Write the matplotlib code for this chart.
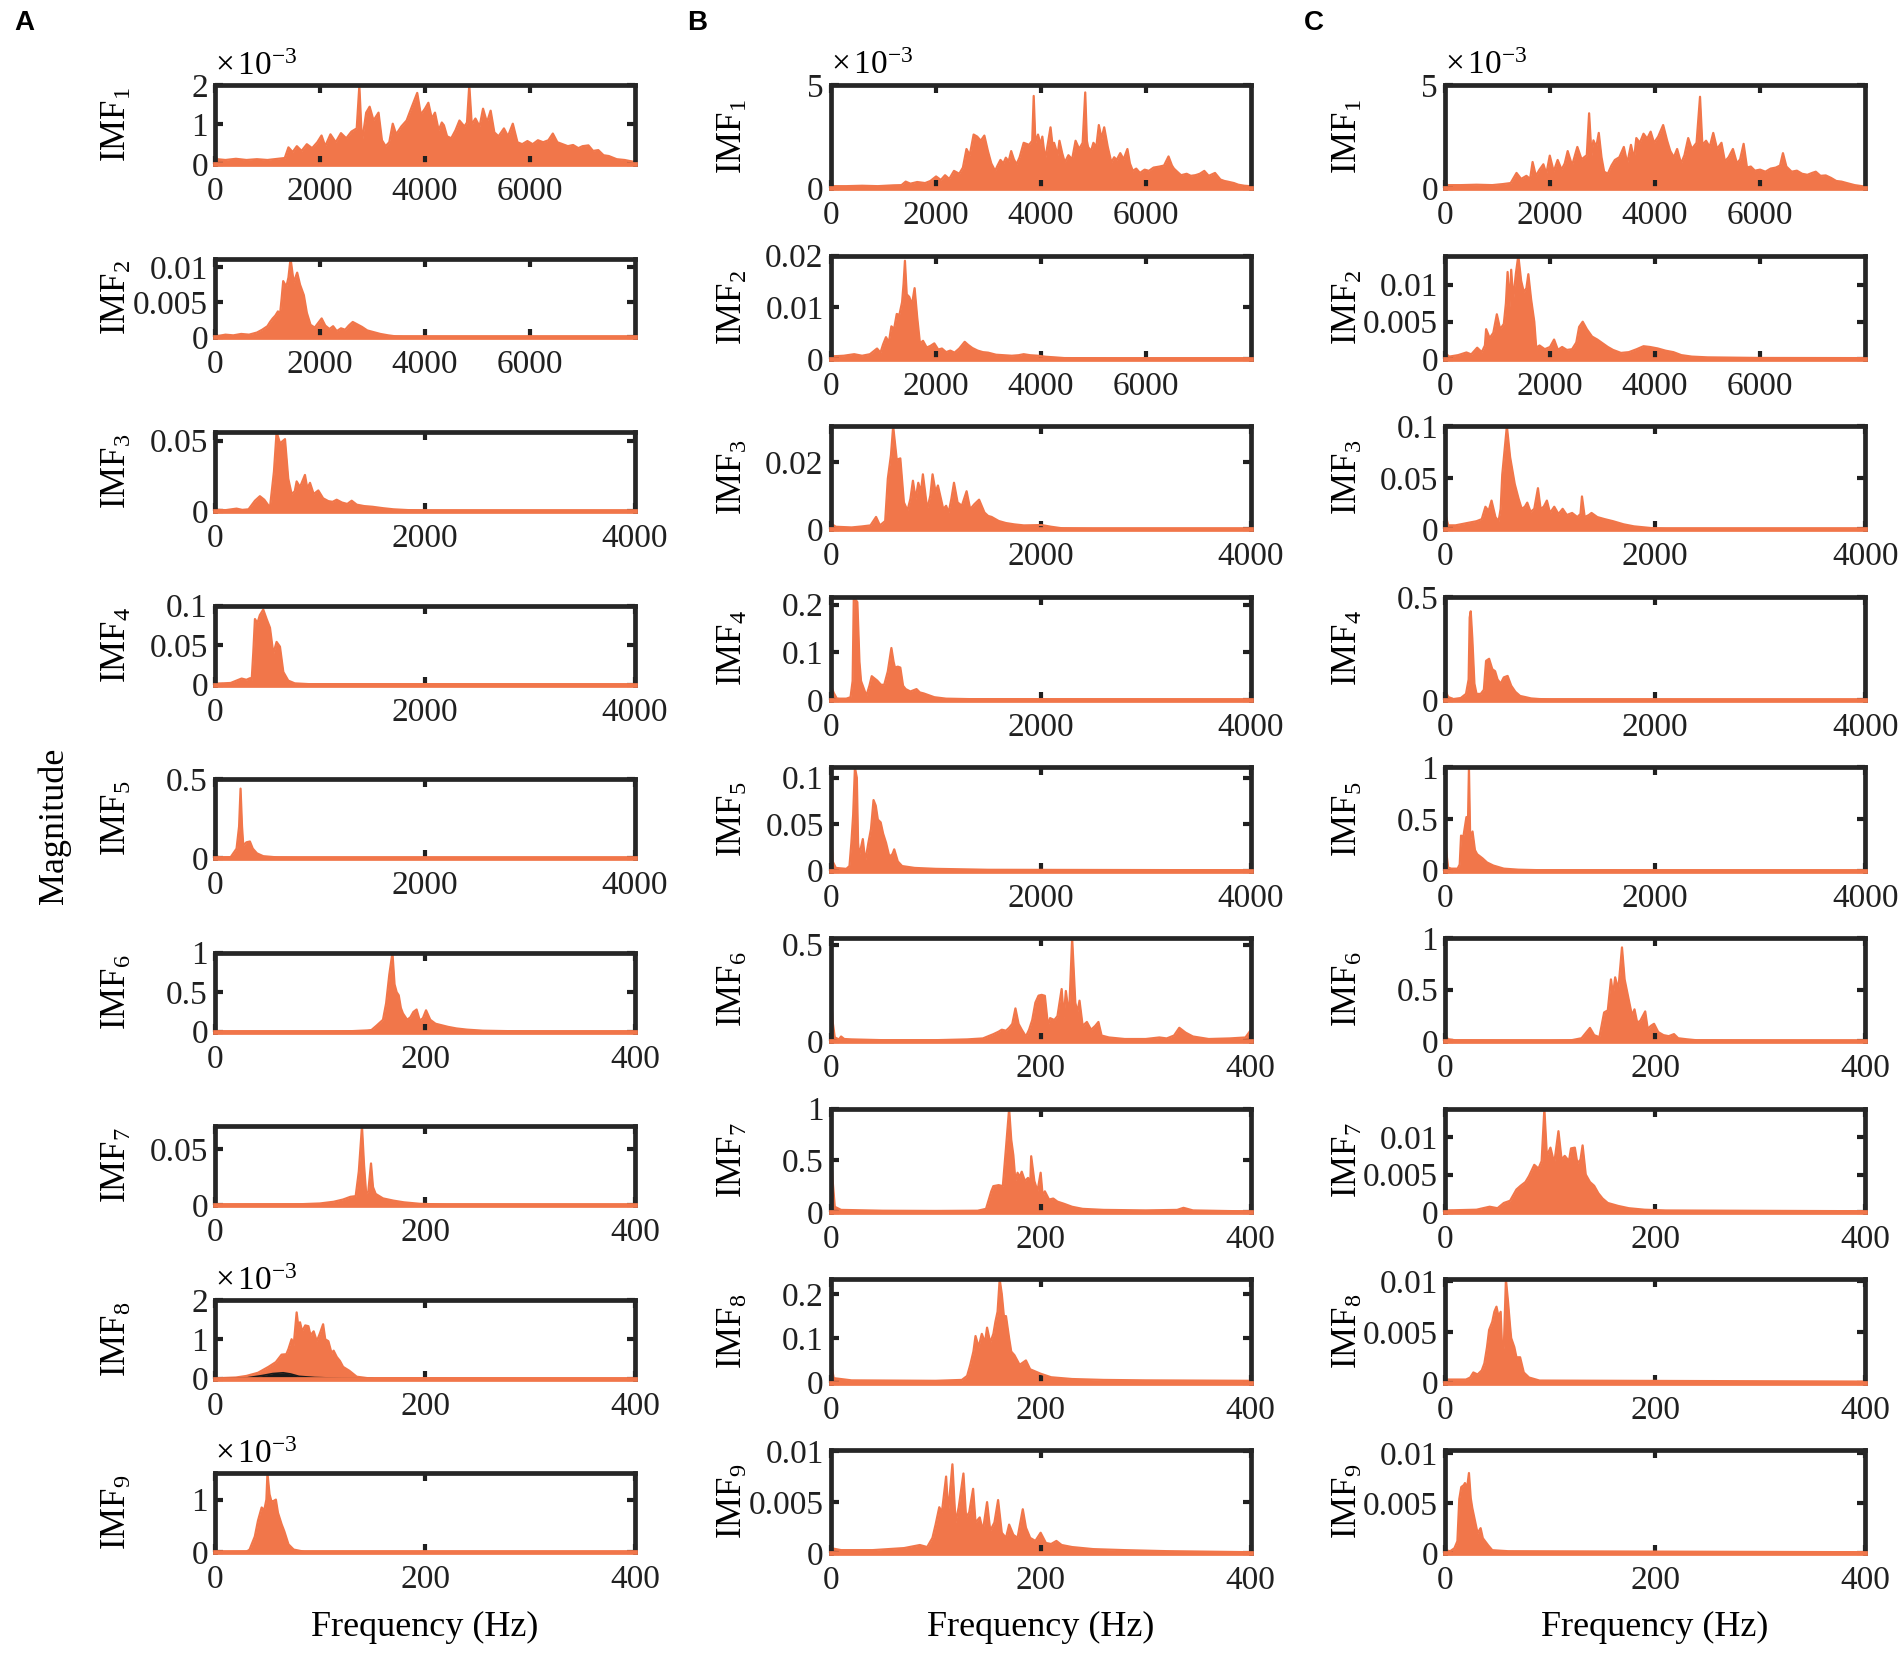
"""Amplitude spectra of IMF1-IMF9 for three signals (columns A, B, C)."""

import matplotlib
matplotlib.use("Agg")
import matplotlib.pyplot as plt
import numpy as np

plt.rcParams["font.family"] = ["Liberation Serif", "DejaVu Serif"]
plt.rcParams["mathtext.fontset"] = "custom"
plt.rcParams["mathtext.rm"] = "Liberation Serif"
plt.rcParams["mathtext.it"] = "Liberation Serif:italic"

ORANGE = "#F1764A"

# ---- spectra, (frequency Hz, magnitude) ; panels with *1e-3 scale are stored in units of 1e-3
a_imf1 = [(0, 0.22), (40, 0.12), (200, 0.1), (400, 0.13), (600, 0.1), (800, 0.12), (1000, 0.1), (1200, 0.13),
          (1330, 0.15), (1400, 0.42), (1480, 0.3), (1560, 0.45), (1650, 0.33), (1750, 0.5), (1850, 0.4),
          (1950, 0.55), (2030, 0.72), (2100, 0.45), (2200, 0.75), (2300, 0.55), (2400, 0.78), (2500, 0.65),
          (2600, 0.82), (2700, 0.9), (2750, 1.98), (2800, 0.55), (2880, 1.3), (2946, 1.45), (3020, 1.1),
          (3115, 1.3), (3180, 0.6), (3250, 0.45), (3320, 0.55), (3386, 1.02), (3450, 0.75), (3550, 0.95),
          (3650, 1.1), (3750, 1.45), (3852, 1.8), (3920, 1.25), (4000, 1.4), (4064, 1.55), (4130, 1.15),
          (4190, 1.3), (4260, 0.85), (4320, 1.05), (4360, 0.98), (4420, 0.7), (4500, 0.65), (4580, 0.85),
          (4656, 1.1), (4750, 0.95), (4800, 1.05), (4843, 2.0), (4890, 1.0), (4960, 1.15), (5040, 0.95),
          (5105, 1.4), (5180, 1.05), (5250, 1.35), (5320, 0.8), (5400, 0.7), (5503, 0.9), (5580, 0.7),
          (5672, 1.02), (5760, 0.55), (5850, 0.5), (5950, 0.58), (6050, 0.5), (6150, 0.6), (6250, 0.55),
          (6350, 0.6), (6434, 0.77), (6520, 0.55), (6620, 0.5), (6720, 0.45), (6820, 0.48), (6920, 0.4),
          (7000, 0.45), (7112, 0.47), (7200, 0.33), (7300, 0.35), (7400, 0.22), (7500, 0.2), (7650, 0.12),
          (7800, 0.1), (7990, 0.05)]
a_imf2 = [(0, 0.0006), (60, 0.0002), (200, 0.0004), (350, 0.0003), (500, 0.0005), (650, 0.0004), (800, 0.0007),
          (900, 0.0011), (1000, 0.0016), (1050, 0.0022), (1100, 0.0027), (1150, 0.0031), (1200, 0.0037),
          (1240, 0.0033), (1270, 0.0055), (1300, 0.008), (1360, 0.0072), (1400, 0.0085), (1440, 0.0112),
          (1500, 0.0078), (1566, 0.0092), (1620, 0.0075), (1693, 0.006), (1750, 0.0035), (1820, 0.0018),
          (1900, 0.0014), (1960, 0.002), (2032, 0.0027), (2100, 0.0017), (2180, 0.0012), (2250, 0.0016),
          (2320, 0.0009), (2400, 0.0013), (2480, 0.0011), (2550, 0.0017), (2624, 0.0022), (2700, 0.0019),
          (2800, 0.0015), (2900, 0.001), (3000, 0.0008), (3150, 0.0005), (3300, 0.0003), (3450, 0.00015),
          (3600, 0.0001), (5000, 0.00008), (7990, 0.00008)]
a_imf3 = [(0, 0.001), (100, 0.0006), (206, 0.0017), (260, 0.0008), (320, 0.0012), (381, 0.0073), (428, 0.0105),
          (470, 0.008), (524, 0.0024), (562, 0.028), (587, 0.056), (620, 0.048), (667, 0.051), (698, 0.023),
          (730, 0.012), (760, 0.014), (778, 0.021), (810, 0.017), (857, 0.0256), (880, 0.016), (905, 0.02),
          (940, 0.012), (984, 0.0146), (1030, 0.009), (1080, 0.007), (1120, 0.0065), (1159, 0.008),
          (1210, 0.006), (1260, 0.005), (1302, 0.0073), (1350, 0.0045), (1420, 0.0035), (1500, 0.003),
          (1600, 0.002), (1700, 0.0012), (1850, 0.0006), (2000, 0.0003), (2200, 0.0002), (3990, 0.0001)]
a_imf4 = [(0, 0.001), (150, 0.002), (254, 0.0076), (300, 0.006), (333, 0.008), (350, 0.006), (365, 0.04),
          (381, 0.083), (405, 0.078), (428, 0.088), (460, 0.095), (492, 0.083), (524, 0.072), (556, 0.039),
          (587, 0.054), (619, 0.048), (651, 0.016), (698, 0.005), (760, 0.0015), (900, 0.0005), (3990, 0.0002)]
a_imf5 = [(0, 0.012), (60, 0.004), (150, 0.006), (206, 0.06), (230, 0.2), (244, 0.44), (258, 0.2), (270, 0.08),
          (300, 0.1), (333, 0.105), (360, 0.06), (400, 0.03), (460, 0.012), (600, 0.004), (800, 0.002),
          (3990, 0.001)]
a_imf6 = [(0, 0.003), (100, 0.003), (130, 0.006), (145, 0.015), (149, 0.02), (154, 0.077), (160, 0.15),
          (163, 0.36), (166, 0.72), (169, 1.0), (171, 0.6), (173, 0.5), (175, 0.46), (177, 0.3), (179, 0.23),
          (183, 0.15), (186, 0.18), (189, 0.25), (192, 0.28), (195, 0.14), (198, 0.17), (201, 0.27),
          (205, 0.15), (210, 0.1), (216, 0.08), (222, 0.06), (230, 0.04), (240, 0.025), (255, 0.012),
          (280, 0.006), (320, 0.003), (400, 0.002)]
a_imf7 = [(0, 0.0005), (80, 0.0008), (100, 0.0015), (113, 0.003), (122, 0.005), (129, 0.0074), (134, 0.008),
          (137, 0.03), (140, 0.07), (142, 0.035), (144, 0.01), (146, 0.012), (148.6, 0.037), (150.5, 0.016),
          (153, 0.01), (160, 0.006), (170, 0.004), (180, 0.0025), (195, 0.0012), (220, 0.0005), (400, 0.0003)]
a_imf8 = [(0, 0.01), (20, 0.03), (30, 0.07), (41, 0.15), (51, 0.3), (58, 0.42), (63.5, 0.61), (68, 0.62),
          (70, 0.75), (73, 1.0), (75, 0.85), (77.8, 1.68), (79.5, 1.3), (81, 1.43), (83, 1.2), (86, 1.35),
          (89, 1.33), (91, 1.1), (94, 1.2), (97, 0.95), (100, 1.15), (103, 1.38), (105, 1.0), (108, 0.95),
          (111, 0.65), (113, 0.71), (116, 0.55), (119, 0.45), (122, 0.3), (128, 0.2), (135, 0.05),
          (145, 0.015), (400, 0.005)]
a_imf8_black = [(0, 0.0), (30, 0.02), (45, 0.08), (55, 0.13), (65, 0.15), (72, 0.12), (80, 0.06), (95, 0.03),
                (120, 0.01), (150, 0.0)]
a_imf9 = [(0, 0.005), (30, 0.01), (33, 0.05), (38, 0.3), (41, 0.6), (44.5, 0.85), (47, 0.8), (49, 1.0),
          (50, 1.5), (52, 1.1), (54, 0.95), (55.5, 0.97), (58, 1.0), (60, 0.75), (63.5, 0.53), (66, 0.4),
          (70, 0.15), (75, 0.05), (85, 0.01), (400, 0.005)]

b_imf1 = [(0, 0.25), (60, 0.1), (300, 0.1), (600, 0.12), (900, 0.1), (1200, 0.14), (1350, 0.15), (1430, 0.32),
          (1520, 0.22), (1650, 0.3), (1800, 0.25), (1900, 0.35), (2009, 0.57), (2100, 0.4), (2180, 0.63),
          (2260, 0.45), (2350, 0.84), (2450, 0.7), (2520, 1.0), (2588, 1.9), (2650, 1.6), (2724, 2.6),
          (2792, 2.5), (2860, 2.3), (2928, 2.55), (2996, 1.8), (3060, 1.2), (3133, 0.84), (3180, 1.1),
          (3235, 1.37), (3290, 1.2), (3337, 1.48), (3390, 1.3), (3439, 1.8), (3490, 1.4), (3541, 1.16),
          (3600, 1.5), (3677, 2.2), (3780, 2.1), (3840, 2.3), (3868, 4.47), (3900, 2.2), (3950, 2.6),
          (4000, 2.1), (4032, 2.5), (4086, 1.4), (4140, 2.2), (4188, 2.95), (4230, 2.0), (4256, 2.2),
          (4324, 1.6), (4358, 2.3), (4410, 1.7), (4460, 1.25), (4529, 1.6), (4600, 1.4), (4665, 2.3),
          (4733, 1.9), (4800, 2.2), (4849, 4.64), (4880, 2.3), (4903, 2.0), (4960, 1.8), (5005, 2.2),
          (5060, 2.0), (5108, 3.06), (5160, 2.4), (5210, 2.95), (5278, 2.0), (5346, 1.25), (5400, 1.5),
          (5448, 1.37), (5516, 1.7), (5580, 1.4), (5652, 1.9), (5700, 1.2), (5755, 0.84), (5820, 0.95),
          (5891, 0.74), (5980, 0.9), (6061, 0.84), (6150, 1.0), (6265, 1.05), (6350, 1.1), (6435, 1.54),
          (6500, 1.1), (6538, 0.95), (6600, 0.8), (6674, 0.63), (6780, 0.7), (6860, 0.6), (6946, 0.63),
          (7030, 0.7), (7116, 0.84), (7200, 0.6), (7320, 0.74), (7423, 0.42), (7500, 0.35), (7559, 0.32),
          (7680, 0.25), (7764, 0.17), (7880, 0.12), (7990, 0.1)]
b_imf2 = [(0, 0.0012), (60, 0.0005), (250, 0.0006), (450, 0.0009), (600, 0.0006), (750, 0.0009), (885, 0.002),
          (950, 0.0012), (1000, 0.0028), (1055, 0.0042), (1110, 0.0032), (1158, 0.0063), (1210, 0.0058),
          (1260, 0.0087), (1310, 0.0085), (1362, 0.011), (1390, 0.0145), (1416, 0.019), (1450, 0.0125),
          (1498, 0.012), (1550, 0.0105), (1600, 0.0137), (1650, 0.008), (1702, 0.003), (1760, 0.0035),
          (1830, 0.0022), (1900, 0.0025), (1975, 0.003), (2050, 0.0018), (2120, 0.002), (2200, 0.0013),
          (2280, 0.0016), (2360, 0.0012), (2450, 0.002), (2554, 0.0033), (2620, 0.0027), (2700, 0.0021),
          (2800, 0.0016), (2900, 0.0013), (3000, 0.0012), (3150, 0.0008), (3300, 0.0007), (3450, 0.0006),
          (3580, 0.0007), (3677, 0.0009), (3800, 0.0007), (3950, 0.0006), (4100, 0.0004), (4250, 0.0003),
          (4450, 0.00015), (5500, 0.0001), (7990, 0.0001)]
b_imf3 = [(0, 0.0018), (50, 0.0008), (200, 0.0006), (300, 0.0009), (380, 0.0012), (433, 0.0037), (470, 0.0012),
          (520, 0.0025), (545, 0.015), (575, 0.022), (596, 0.0305), (630, 0.0206), (664, 0.021), (698, 0.008),
          (732, 0.0056), (760, 0.009), (784, 0.0144), (810, 0.009), (835, 0.0138), (860, 0.011), (879, 0.0163),
          (920, 0.006), (950, 0.01), (971, 0.0163), (1000, 0.011), (1022, 0.013), (1073, 0.006), (1100, 0.007),
          (1124, 0.005), (1150, 0.009), (1175, 0.0138), (1209, 0.008), (1250, 0.007), (1295, 0.0113),
          (1329, 0.006), (1370, 0.0075), (1414, 0.0088), (1465, 0.005), (1500, 0.004), (1533, 0.0037),
          (1601, 0.0025), (1669, 0.0019), (1750, 0.0015), (1840, 0.0012), (2010, 0.0013), (2100, 0.0008),
          (2215, 0.0003), (2500, 0.0001), (3990, 0.0001)]
b_imf4 = [(0, 0.032), (30, 0.015), (60, 0.003), (150, 0.003), (190, 0.006), (210, 0.04), (221, 0.214),
          (238, 0.21), (255, 0.205), (275, 0.08), (290, 0.04), (341, 0.009), (370, 0.03), (392, 0.05),
          (420, 0.045), (443, 0.041), (480, 0.032), (511, 0.032), (545, 0.06), (579, 0.109), (600, 0.08),
          (613, 0.068), (640, 0.07), (664, 0.068), (690, 0.03), (715, 0.023), (760, 0.018), (818, 0.023),
          (850, 0.016), (886, 0.014), (988, 0.006), (1100, 0.003), (1329, 0.002), (3990, 0.001)]
b_imf5 = [(0, 0.052), (20, 0.01), (50, 0.003), (150, 0.002), (180, 0.005), (198, 0.03), (215, 0.06),
          (232, 0.111), (250, 0.1), (262, 0.03), (272, 0.016), (290, 0.025), (307, 0.034), (330, 0.01),
          (360, 0.03), (385, 0.045), (409, 0.076), (430, 0.07), (450, 0.055), (477, 0.052), (500, 0.04),
          (528, 0.03), (560, 0.015), (590, 0.018), (606, 0.023), (640, 0.01), (681, 0.005), (800, 0.003),
          (1000, 0.002), (1500, 0.001), (3990, 0.0005)]
b_imf6 = [(0, 0.26), (2, 0.1), (4, 0.02), (8, 0.01), (10, 0.025), (13, 0.012), (20, 0.01), (50, 0.006),
          (100, 0.006), (130, 0.01), (145, 0.015), (155, 0.037), (160, 0.05), (163, 0.06), (167, 0.055),
          (170, 0.07), (173, 0.09), (176, 0.17), (179, 0.09), (182, 0.06), (186, 0.025), (189, 0.06),
          (192, 0.11), (195, 0.2), (198, 0.236), (201, 0.24), (204, 0.235), (207, 0.08), (209, 0.12),
          (213, 0.11), (216, 0.13), (220, 0.27), (222, 0.12), (224, 0.26), (227, 0.13), (230, 0.533),
          (233, 0.2), (235, 0.15), (237, 0.21), (240, 0.08), (244, 0.1), (248, 0.06), (252, 0.08), (255, 0.1),
          (258, 0.03), (265, 0.02), (280, 0.012), (300, 0.012), (313, 0.02), (320, 0.015), (327, 0.03),
          (332, 0.07), (338, 0.045), (345, 0.025), (360, 0.012), (380, 0.015), (395, 0.02), (399, 0.05)]
b_imf7 = [(0, 0.62), (2, 0.3), (4, 0.05), (10, 0.02), (50, 0.012), (100, 0.01), (140, 0.012), (148, 0.03),
          (153, 0.2), (155, 0.25), (160, 0.26), (164, 0.25), (167, 0.62), (170, 1.0), (172, 0.7), (174, 0.55),
          (176, 0.3), (178, 0.38), (180, 0.34), (182, 0.39), (185, 0.3), (188, 0.33), (190, 0.25),
          (191, 0.54), (194, 0.3), (197, 0.2), (200, 0.38), (202, 0.15), (204, 0.2), (208, 0.12), (212, 0.13),
          (216, 0.1), (222, 0.08), (230, 0.05), (240, 0.03), (260, 0.02), (300, 0.015), (330, 0.02),
          (336, 0.04), (345, 0.015), (399, 0.005)]
b_imf8 = [(0, 0.048), (3, 0.01), (20, 0.005), (100, 0.004), (125, 0.006), (130, 0.015), (133, 0.04),
          (136, 0.07), (138, 0.105), (141, 0.08), (144, 0.11), (147, 0.09), (149, 0.124), (152, 0.09),
          (155, 0.11), (157, 0.138), (159, 0.16), (161, 0.233), (163, 0.2), (165, 0.15), (167, 0.15),
          (170, 0.1), (172, 0.07), (175, 0.062), (180, 0.04), (186, 0.05), (190, 0.03), (200, 0.02),
          (210, 0.012), (230, 0.008), (260, 0.006), (300, 0.005), (399, 0.004)]
b_imf9 = [(0, 0.0005), (10, 0.0003), (40, 0.0003), (70, 0.0005), (85, 0.0008), (92, 0.0006), (97, 0.0015),
          (100, 0.0028), (103.5, 0.0045), (106, 0.004), (110, 0.0075), (112, 0.004), (116, 0.0087),
          (119, 0.003), (122, 0.0045), (126.5, 0.0078), (129, 0.0035), (132, 0.004), (135.7, 0.0063),
          (138, 0.003), (142, 0.0035), (145, 0.0022), (149, 0.005), (152, 0.0022), (156, 0.003),
          (159.5, 0.0052), (163, 0.002), (167, 0.0015), (170, 0.0028), (174, 0.0018), (178, 0.0015),
          (183, 0.0043), (186, 0.0025), (190, 0.0015), (195, 0.0012), (200, 0.002), (205, 0.001),
          (210, 0.0009), (215, 0.0012), (220, 0.0008), (230, 0.0006), (250, 0.0004), (280, 0.0003),
          (320, 0.0002), (399, 0.0001)]

c_imf1 = [(0, 0.3), (50, 0.15), (300, 0.15), (600, 0.17), (900, 0.15), (1100, 0.2), (1250, 0.25), (1362, 0.74),
          (1450, 0.45), (1550, 0.6), (1620, 0.45), (1668, 1.27), (1730, 0.6), (1800, 0.9), (1873, 1.16),
          (1930, 0.7), (1995, 1.58), (2070, 0.8), (2145, 1.37), (2220, 0.9), (2280, 1.2), (2336, 1.8),
          (2420, 1.1), (2520, 2.0), (2600, 1.4), (2700, 1.6), (2744, 3.63), (2790, 1.6), (2826, 2.32),
          (2880, 2.0), (2928, 2.68), (2980, 1.5), (3030, 0.8), (3100, 0.7), (3170, 1.1), (3235, 1.37),
          (3320, 1.5), (3405, 2.0), (3470, 1.2), (3541, 2.1), (3600, 1.4), (3643, 2.43), (3710, 2.2),
          (3780, 2.64), (3850, 2.4), (3916, 2.74), (3980, 2.2), (4060, 2.5), (4154, 3.06), (4230, 2.3),
          (4290, 1.8), (4358, 1.5), (4420, 1.9), (4495, 1.2), (4560, 1.6), (4631, 2.43), (4700, 1.9),
          (4790, 2.2), (4856, 4.43), (4900, 2.1), (4971, 2.3), (5040, 2.0), (5108, 2.68), (5180, 1.9),
          (5264, 2.2), (5330, 1.3), (5400, 1.5), (5482, 1.9), (5560, 1.2), (5620, 1.4), (5686, 2.15),
          (5750, 1.0), (5823, 1.05), (5900, 0.85), (6000, 0.9), (6100, 0.8), (6200, 0.95), (6300, 1.0),
          (6380, 1.1), (6435, 1.7), (6500, 1.05), (6600, 0.8), (6700, 0.85), (6800, 0.7), (6900, 0.65),
          (7000, 0.75), (7060, 0.8), (7150, 0.6), (7250, 0.62), (7350, 0.5), (7450, 0.35), (7550, 0.32),
          (7650, 0.25), (7800, 0.15), (7990, 0.08)]
c_imf2 = [(0, 0.0008), (80, 0.0003), (250, 0.0005), (408, 0.00086), (500, 0.0006), (613, 0.0015), (700, 0.0009),
          (760, 0.0018), (783, 0.004), (850, 0.0028), (920, 0.0035), (987, 0.006), (1050, 0.004),
          (1120, 0.0047), (1160, 0.0075), (1192, 0.0117), (1230, 0.007), (1260, 0.012), (1300, 0.008),
          (1350, 0.0115), (1396, 0.0139), (1450, 0.0105), (1500, 0.009), (1550, 0.0095), (1587, 0.0114),
          (1640, 0.008), (1700, 0.005), (1737, 0.0015), (1800, 0.0018), (1900, 0.0013), (2000, 0.0016),
          (2077, 0.0026), (2150, 0.0012), (2230, 0.0016), (2320, 0.0012), (2420, 0.0013), (2500, 0.0022),
          (2554, 0.0043), (2622, 0.005), (2700, 0.004), (2800, 0.003), (2900, 0.0026), (3000, 0.0021),
          (3100, 0.0016), (3200, 0.0012), (3350, 0.0008), (3500, 0.0009), (3650, 0.0013), (3780, 0.0017),
          (3900, 0.0016), (4050, 0.0014), (4200, 0.0011), (4350, 0.0009), (4500, 0.0005), (4700, 0.0003),
          (5000, 0.0002), (6000, 0.00012), (7990, 0.0001)]
c_imf3 = [(0, 0.0165), (30, 0.004), (100, 0.004), (200, 0.006), (300, 0.008), (350, 0.01), (385, 0.022),
          (415, 0.018), (443, 0.028), (480, 0.012), (510, 0.008), (530, 0.02), (545, 0.053), (589, 0.1),
          (620, 0.07), (664, 0.044), (700, 0.03), (730, 0.02), (760, 0.022), (783, 0.026), (815, 0.017),
          (850, 0.02), (885, 0.04), (910, 0.02), (940, 0.022), (970, 0.028), (1000, 0.016), (1040, 0.022),
          (1080, 0.015), (1120, 0.02), (1160, 0.014), (1210, 0.016), (1260, 0.012), (1290, 0.015),
          (1304, 0.032), (1330, 0.012), (1370, 0.014), (1395, 0.016), (1450, 0.012), (1520, 0.01),
          (1600, 0.008), (1700, 0.005), (1800, 0.003), (1900, 0.002), (2000, 0.001), (2100, 0.0004),
          (3990, 0.0002)]
c_imf4 = [(0, 0.05), (30, 0.015), (80, 0.005), (150, 0.01), (200, 0.03), (225, 0.1), (235, 0.4), (245, 0.43),
          (260, 0.3), (280, 0.08), (300, 0.03), (340, 0.03), (370, 0.05), (391, 0.19), (420, 0.2), (450, 0.15),
          (477, 0.14), (500, 0.1), (530, 0.08), (560, 0.11), (596, 0.117), (630, 0.07), (670, 0.04),
          (715, 0.02), (760, 0.015), (820, 0.008), (900, 0.005), (1000, 0.003), (3990, 0.001)]
c_imf5 = [(0, 0.48), (10, 0.2), (30, 0.03), (60, 0.02), (120, 0.02), (140, 0.06), (153, 0.34), (175, 0.33),
          (204, 0.52), (215, 0.25), (228, 1.0), (240, 0.3), (262, 0.38), (285, 0.2), (306, 0.16), (357, 0.12),
          (400, 0.08), (460, 0.05), (560, 0.02), (698, 0.01), (900, 0.005), (3990, 0.002)]
c_imf6 = [(0, 0.06), (3, 0.02), (10, 0.01), (100, 0.006), (120, 0.01), (130, 0.03), (138, 0.13), (142, 0.06),
          (147, 0.04), (151.5, 0.28), (155, 0.3), (158, 0.6), (160, 0.45), (162, 0.62), (165, 0.5),
          (168.5, 0.91), (171, 0.6), (173, 0.5), (175, 0.4), (178, 0.25), (180.4, 0.31), (183, 0.18),
          (186, 0.2), (190.6, 0.29), (193, 0.12), (196, 0.15), (199, 0.17), (203, 0.09), (208, 0.06),
          (213, 0.05), (218, 0.07), (222, 0.03), (230, 0.02), (240, 0.01), (300, 0.006), (399, 0.004)]
c_imf7 = [(0, 0.0002), (30, 0.0003), (42.5, 0.0007), (50, 0.0005), (56, 0.0012), (62, 0.0015), (68, 0.003),
          (72, 0.0035), (76.6, 0.004), (80, 0.0048), (85, 0.0063), (89, 0.0058), (92, 0.0068), (94.6, 0.0138),
          (97, 0.0075), (100.4, 0.0086), (104, 0.0065), (108, 0.0108), (111, 0.007), (114, 0.0075),
          (118, 0.0068), (120, 0.0085), (123.6, 0.0086), (126, 0.0065), (129, 0.007), (131, 0.0089),
          (134, 0.005), (138, 0.004), (142, 0.0035), (146, 0.0025), (150, 0.0018), (155, 0.0012),
          (165, 0.0008), (175, 0.0005), (190, 0.0003), (210, 0.0002), (399, 0.0001)]
c_imf8 = [(0, 0.0003), (20, 0.0003), (24, 0.0005), (27, 0.001), (31, 0.0008), (35, 0.0012), (37.5, 0.0019),
          (40, 0.0035), (42, 0.0052), (45, 0.006), (47, 0.007), (49, 0.0075), (51, 0.0065), (53, 0.007),
          (54.5, 0.003), (56, 0.0035), (58, 0.0102), (60, 0.008), (62, 0.0055), (63, 0.0044), (66, 0.0035),
          (68, 0.0025), (71.5, 0.0025), (75, 0.001), (80, 0.0005), (90, 0.0002), (399, 0.0001)]
c_imf9 = [(0, 0.0003), (5, 0.0002), (9, 0.0005), (11.8, 0.0012), (13.6, 0.0054), (15.5, 0.0066), (18, 0.0068),
          (19, 0.007), (21, 0.0065), (22.8, 0.008), (24.5, 0.0055), (26, 0.0045), (28, 0.0035), (31, 0.002),
          (33.9, 0.0025), (36, 0.0015), (41, 0.0008), (45, 0.0003), (60, 0.0002), (399, 0.0001)]

SPECTRA = [
    [a_imf1, a_imf2, a_imf3, a_imf4, a_imf5, a_imf6, a_imf7, a_imf8, a_imf9],
    [b_imf1, b_imf2, b_imf3, b_imf4, b_imf5, b_imf6, b_imf7, b_imf8, b_imf9],
    [c_imf1, c_imf2, c_imf3, c_imf4, c_imf5, c_imf6, c_imf7, c_imf8, c_imf9],
]

# axis ranges and ticks
X_MAX = [8000, 8000, 4000, 4000, 4000, 400, 400, 400, 400]
X_TICKS = {8000: [0, 2000, 4000, 6000], 4000: [0, 2000, 4000], 400: [0, 200, 400]}
Y_MAX = [
    [2, 0.0112, 0.056, 0.1, 0.5, 1.0, 0.07, 2, 1.5],
    [5, 0.02, 0.0305, 0.216, 0.111, 0.533, 1.0, 0.233, 0.0101],
    [5, 0.0139, 0.1, 0.5, 1.0, 1.0, 0.0138, 0.0102, 0.0103],
]
Y_TICKS = [
    [[0, 1, 2], [0, 0.005, 0.01], [0, 0.05], [0, 0.05, 0.1], [0, 0.5], [0, 0.5, 1], [0, 0.05],
     [0, 1, 2], [0, 1]],
    [[0, 5], [0, 0.01, 0.02], [0, 0.02], [0, 0.1, 0.2], [0, 0.05, 0.1], [0, 0.5], [0, 0.5, 1],
     [0, 0.1, 0.2], [0, 0.005, 0.01]],
    [[0, 5], [0, 0.005, 0.01], [0, 0.05, 0.1], [0, 0.5], [0, 0.5, 1], [0, 0.5, 1], [0, 0.005, 0.01],
     [0, 0.005, 0.01], [0, 0.005, 0.01]],
]
EXP_PANELS = {(0, 0), (0, 7), (0, 8), (1, 0), (2, 0)}
COLUMN_TAGS = ["A", "B", "C"]

# layout in reference pixels (1568 x 1362 view)
W, H = 1568.0, 1362.0
COL_LEFT = [177, 684, 1190]
COL_W = 346


def main() -> None:
    fig = plt.figure(figsize=(19.04, 16.54), dpi=100)

    for c in range(3):
        left = COL_LEFT[c]
        for r in range(9):
            if c == 0:
                top, h = 70 + 142.9 * r, 65
            else:
                top, h = 70 + 140.5 * r, 85
            ax = fig.add_axes([left / W, 1 - (top + h) / H, COL_W / W, h / H])
            f, m = np.array(SPECTRA[c][r]).T
            ax.fill_between(f, m, 0, color=ORANGE, lw=0)
            ax.plot(f, m, color=ORANGE, lw=1.6)
            if (c, r) == (0, 7):
                fb, mb = np.array(a_imf8_black).T
                ax.fill_between(fb, mb, 0, color="#1a1a1a", lw=0)
                ax.plot(fb, mb, color="#1a1a1a", lw=1.2)

            xmax = X_MAX[r]
            ax.set_xlim(0, xmax)
            ax.set_ylim(0, Y_MAX[c][r])
            ax.set_xticks(X_TICKS[xmax])
            ax.set_xticklabels([str(v) for v in X_TICKS[xmax]])
            yt = Y_TICKS[c][r]
            ax.set_yticks(yt)
            ax.set_yticklabels([f"{v:g}" for v in yt])
            ax.tick_params(direction="in", top=True, right=True, length=6, width=3,
                           labelsize=24, colors="#202020")
            ax.tick_params(axis="x", pad=9)
            ax.tick_params(axis="y", pad=5)
            for side in ("top", "left", "right"):
                ax.spines[side].set_linewidth(3.4)
                ax.spines[side].set_color("#262626")
            ax.spines["bottom"].set_linewidth(3.4)
            ax.spines["bottom"].set_color(ORANGE)

            if (c, r) in EXP_PANELS:
                ax.text(0.0, 1.04, r"$\times\,10^{-3}$", transform=ax.transAxes,
                        ha="left", va="bottom", fontsize=24)

            fig.text((left - 80) / W, 1 - (top + h / 2) / H, f"IMF$_{{{r + 1}}}$",
                     rotation=90, ha="center", va="center", fontsize=25)

        fig.text((left + COL_W / 2) / W, 1 - 1340 / H, "Frequency (Hz)",
                 ha="center", va="center", fontsize=26)

    for tag, x in zip(COLUMN_TAGS, [20, 574, 1082]):
        fig.text(x / W, 1 - 19 / H, tag, ha="center", va="center", fontsize=20,
                 fontweight="bold", family="Liberation Sans")

    fig.text(45 / W, 1 - 680 / H, "Magnitude", rotation=90, ha="center", va="center", fontsize=26)

    fig.savefig("out.png", dpi=100)
    plt.close(fig)


if __name__ == "__main__":
    main()
